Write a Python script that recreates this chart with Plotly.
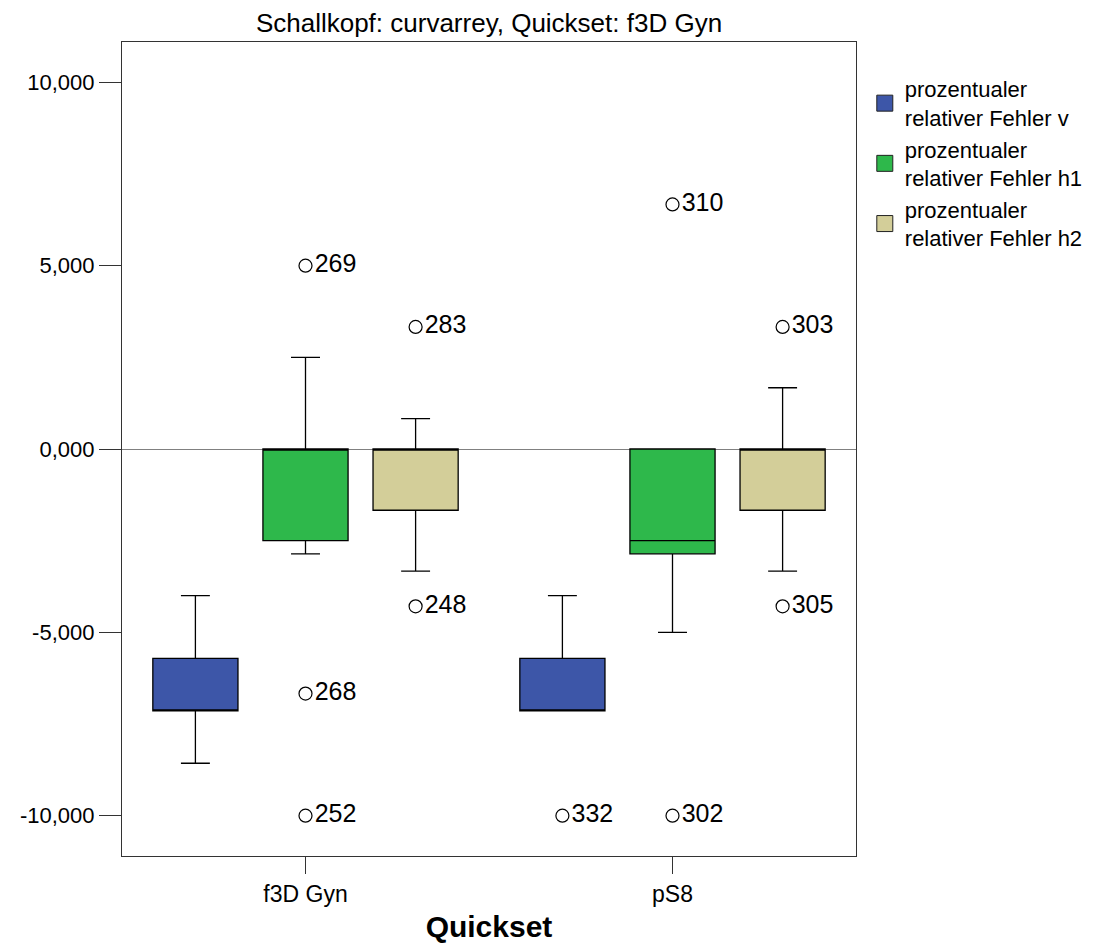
import plotly.graph_objects as go

# ---- data ----
categories = ["f3D Gyn", "pS8"]
series_names = [
    "prozentualer<br>relativer Fehler v",
    "prozentualer<br>relativer Fehler h1",
    "prozentualer<br>relativer Fehler h2",
]
colors = ["#3D56A8", "#2EB84B", "#D3CE99"]

# per series: values for [f3D Gyn, pS8]
q1 = [[-7.14, -7.14], [-2.50, -2.86], [-1.67, -1.67]]
median = [[-7.14, -7.14], [0.00, -2.50], [0.00, 0.00]]
q3 = [[-5.71, -5.71], [0.00, 0.00], [0.00, 0.00]]
lowerfence = [[-8.57, -7.14], [-2.86, -5.00], [-3.33, -3.33]]
upperfence = [[-4.00, -4.00], [2.50, 0.00], [0.83, 1.67]]

# outliers: (series index, category index, value, case label)
outlier_series = [1, 1, 1, 2, 2, 0, 1, 1, 2, 2]
outlier_cat = [0, 0, 0, 0, 0, 1, 1, 1, 1, 1]
outlier_val = [5.00, -6.67, -10.00, 3.33, -4.29, -10.00, 6.67, -10.00, 3.33, -4.29]
outlier_lbl = ["269", "268", "252", "283", "248", "332", "310", "302", "303", "305"]

y_ticks = [-10, -5, 0, 5, 10]
y_ticklabels = [f"{v:.3f}".replace(".", ",") for v in y_ticks]

# ---- layout parameters ----
group_offsets = [-0.30, 0.0, 0.30]
box_width = 0.232

fig = go.Figure()

for s in range(3):
    xs = [c + group_offsets[s] for c in range(len(categories))]
    fig.add_trace(go.Box(
        x=xs, q1=q1[s], median=median[s], q3=q3[s],
        lowerfence=lowerfence[s], upperfence=upperfence[s],
        width=box_width, whiskerwidth=0.34, boxpoints=False,
        fillcolor=colors[s], line=dict(color="black", width=1.3),
        showlegend=False, hoverinfo="skip",
    ))

ox = [outlier_cat[i] + group_offsets[outlier_series[i]] for i in range(len(outlier_val))]
fig.add_trace(go.Scatter(
    x=ox, y=outlier_val, text=outlier_lbl, mode="markers+text",
    textposition="middle right",
    textfont=dict(family="Liberation Sans, Arial", size=25, color="black"),
    marker=dict(symbol="circle-open", size=13, color="black", line=dict(width=1.2, color="black")),
    showlegend=False, hoverinfo="skip",
))

# legend proxies
for s in range(3):
    fig.add_trace(go.Scatter(
        x=[None], y=[None], mode="markers", name=series_names[s],
        marker=dict(symbol="square", size=20, color=colors[s], line=dict(color="#222", width=1)),
    ))

fig.update_layout(
    width=1111, height=946,
    margin=dict(l=122, r=255, t=42, b=90),
    paper_bgcolor="white", plot_bgcolor="white",
    boxmode="overlay",
    font=dict(family="Liberation Sans, Arial", color="black"),
    title=dict(
        text="Schallkopf: curvarrey, Quickset: f3D Gyn",
        x=(122 + 856) / 2 / 1111, xanchor="center",
        y=1 - 23 / 946, yanchor="middle", yref="container",
        font=dict(size=26, color="black"),
    ),
    legend=dict(
        x=1.012, xanchor="left", y=0.968, yanchor="top",
        font=dict(size=22, color="black"),
        bgcolor="rgba(0,0,0,0)", tracegroupgap=0, itemsizing="trace",
    ),
    xaxis=dict(
        range=[-0.5, 1.5], tickvals=list(range(len(categories))), ticktext=categories,
        ticks="outside", ticklen=17, tickcolor="#333", tickwidth=1,
        tickfont=dict(size=23), showgrid=False, zeroline=False, automargin=False,
        showline=True, linecolor="#333", linewidth=1.2, mirror=True,
        title=dict(text="<b>Quickset</b>", font=dict(size=30), standoff=10),
    ),
    yaxis=dict(
        range=[-11.1, 11.1], tickvals=y_ticks, ticktext=y_ticklabels,
        ticks="outside", ticklen=22, tickcolor="#333", tickwidth=1,
        tickfont=dict(size=22), showgrid=False, automargin=False,
        zeroline=True, zerolinecolor="#808080", zerolinewidth=1,
        showline=True, linecolor="#333", linewidth=1.2, mirror=True,
    ),
)

fig.write_html("out.html")
